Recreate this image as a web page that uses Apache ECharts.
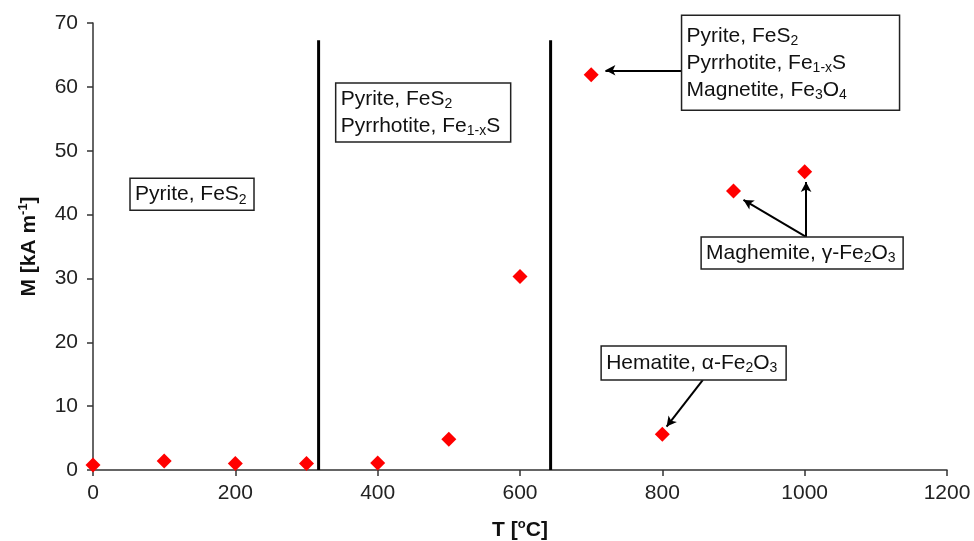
<!DOCTYPE html>
<html><head><meta charset="utf-8">
<script src="https://cdn.jsdelivr.net/npm/echarts@6/dist/echarts.min.js"></script>
<style>html,body{margin:0;padding:0;background:#fff}#c{width:974px;height:541px}</style>
</head><body><div id="c"></div>
<script>
// ---- data ----
const temperatures = [0, 100, 200, 300, 400, 500, 600, 700, 800, 900, 1000];
const magnetization = [0.8, 1.4, 1.0, 1.0, 1.1, 4.8, 30.3, 61.9, 5.6, 43.7, 46.7];
const boundaryT = [317, 643];
const boundaryTop = 67.3;
const xTickLabels = ['0', '200', '400', '600', '800', '1000', '1200'];
const yTickLabels = ['0', '10', '20', '30', '40', '50', '60', '70'];
// arrows: [fromT, fromM, toT, toM]
const arrowFromT = [827, 1002, 1002, 857];
const arrowFromM = [62.6, 36.5, 36.5, 14.1];
const arrowToT   = [720, 914, 1002, 806];
const arrowToM   = [62.6, 42.3, 45.1, 6.8];
// annotation boxes: anchor (top-left) in data coords
const boxTexts = [
  '{n|Pyrite, FeS}{s|2}',
  '{n|Pyrite, FeS}{s|2}\n{n|Pyrrhotite, Fe}{s|1-x}{n|S}',
  '{n|Pyrite, FeS}{s|2}\n{n|Pyrrhotite, Fe}{s|1-x}{n|S}\n{n|Magnetite, Fe}{s|3}{n|O}{s|4}',
  '{n|Maghemite, γ-Fe}{s|2}{n|O}{s|3}',
  '{n|Hematite, α-Fe}{s|2}{n|O}{s|3}'
];
const boxT = [52, 341, 827, 854.5, 714];
const boxM = [45.7, 60.6, 71.2, 36.5, 19.4];

const FONT = "'Liberation Sans', Arial, sans-serif";
const chart = echarts.init(document.getElementById('c'));

const points = temperatures.map((t, i) => [t, magnetization[i]]);
const boundarySeries = boundaryT.map(t => ({
  type: 'line', data: [[t, 0], [t, boundaryTop]], symbol: 'none',
  lineStyle: { color: '#000', width: 3 }, silent: true, z: 3, animation: false
}));
const arrowData = arrowFromT.map((t, i) => [
  { coord: [t, arrowFromM[i]] }, { coord: [arrowToT[i], arrowToM[i]] }
]);

chart.setOption({
  animation: false,
  backgroundColor: '#fff',
  grid: { left: 93, right: 27, top: 23, bottom: 71, containLabel: false, outerBoundsMode: 'none' },
  xAxis: {
    type: 'value', min: 0, max: 1200, interval: 200,
    name: 'T [{sup|o}C]', nameLocation: 'middle', nameGap: 48,
    nameTextStyle: { fontFamily: FONT, fontSize: 21, fontWeight: 'bold', color: '#111',
      rich: { sup: { fontSize: 13, fontWeight: 'bold', fontFamily: FONT, padding: [0, 0, 11, 0], color: '#111' } } },
    axisLine: { lineStyle: { color: '#333', width: 1.5 } },
    axisTick: { show: true, length: 6, lineStyle: { color: '#333', width: 1.5 } },
    axisLabel: { fontFamily: FONT, fontSize: 21, color: '#222', margin: 13,
      formatter: v => xTickLabels[Math.round(v / 200)] },
    splitLine: { show: false }
  },
  yAxis: {
    type: 'value', min: 0, max: 70, interval: 10,
    name: 'M [kA m{sup|-1}]', nameLocation: 'middle', nameGap: 52,
    nameTextStyle: { fontFamily: FONT, fontSize: 21, fontWeight: 'bold', color: '#111',
      rich: { sup: { fontSize: 13, fontWeight: 'bold', fontFamily: FONT, padding: [0, 0, 11, 0], color: '#111' } } },
    axisLine: { show: true, lineStyle: { color: '#333', width: 1.5 } },
    axisTick: { show: true, length: 6, lineStyle: { color: '#333', width: 1.5 } },
    axisLabel: { fontFamily: FONT, fontSize: 21, color: '#222', margin: 15,
      formatter: v => yTickLabels[Math.round(v / 10)] },
    splitLine: { show: false }
  },
  series: [
    ...boundarySeries,
    {
      type: 'scatter', data: points, symbol: 'diamond', symbolSize: [15, 15],
      itemStyle: { color: '#ff0000', opacity: 1 }, z: 5,
      markLine: {
        silent: true, animation: false, symbol: ['none', 'arrow'], symbolSize: [8, 10],
        lineStyle: { color: '#000', width: 2, type: 'solid' },
        label: { show: false }, emphasis: { disabled: true },
        data: arrowData
      }
    }
  ]
});

const boxW = [124, 175, 218, 202, 185];
const boxH = [32, 59, 95, 32, 34];
const rich = {
  n: { fontSize: 21, fontFamily: FONT, color: '#111', lineHeight: 27 },
  s: { fontSize: 14, fontFamily: FONT, color: '#111', lineHeight: 27, padding: [11, 0, 0, 0] }
};
const graphics = [];
boxTexts.forEach((txt, i) => {
  const p = chart.convertToPixel({ gridIndex: 0 }, [boxT[i], boxM[i]]);
  graphics.push({
    type: 'rect', x: p[0], y: p[1], z: 10,
    shape: { x: 0, y: 0, width: boxW[i], height: boxH[i] },
    style: { fill: '#fff', stroke: '#222', lineWidth: 1.5 }
  });
  graphics.push({
    type: 'text', x: p[0] + 5, y: p[1] + boxH[i] / 2, z: 11,
    style: { text: txt, rich: rich, verticalAlign: 'middle', align: 'left', fill: '#111', font: '21px ' + FONT }
  });
});
chart.setOption({ graphic: graphics });
</script></body></html>
